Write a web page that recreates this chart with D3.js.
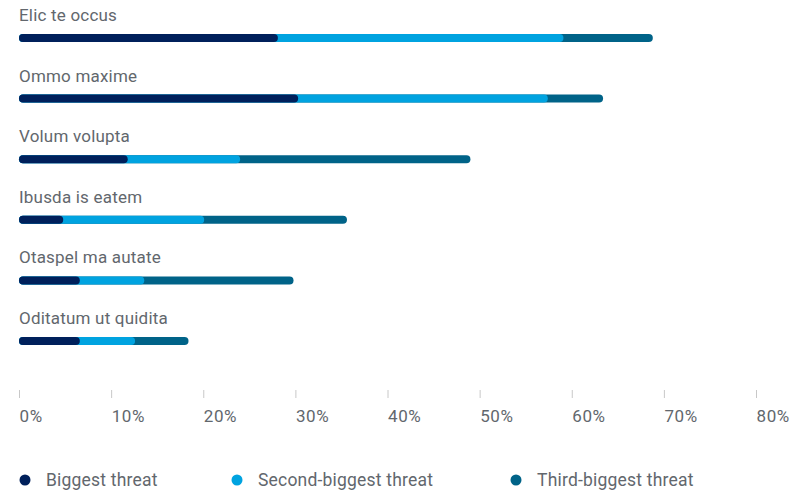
<!DOCTYPE html>
<html>
<head>
<meta charset="utf-8">
<script src="https://cdn.jsdelivr.net/npm/d3@7"></script>
<style>
  body { margin: 0; background: #fff; }
  svg text { font-family: Roboto, "Noto Sans", sans-serif; }
</style>
</head>
<body>
<svg id="chart" width="796" height="491"></svg>
<script>
const categories = ["Elic te occus", "Ommo maxime", "Volum volupta", "Ibusda is eatem", "Otaspel ma autate", "Oditatum ut quidita"];
const biggest = [28.1, 30.3, 11.8, 4.8, 6.6, 6.6];
const second = [31.0, 27.1, 12.2, 15.3, 7.0, 6.0];
const third = [9.7, 6.0, 25.0, 15.5, 16.2, 5.8];
const seriesNames = ["Biggest threat", "Second-biggest threat", "Third-biggest threat"];
const tickValues = [0, 10, 20, 30, 40, 50, 60, 70, 80];

const colors = ["#00205b", "#00a3e0", "#006388"];
const textColor = "#62676d";

const width = 796, height = 491;
const svg = d3.select("#chart");

const x = d3.scaleLinear().domain([0, 80]).range([19, 756]);
const y = d3.scalePoint().domain(categories).range([38, 341]);
const barH = 8;

const rows = categories.map((c, i) => ({
  name: c,
  segs: [biggest[i], biggest[i] + second[i], biggest[i] + second[i] + third[i]]
}));

// category labels
svg.append("g").selectAll("text")
  .data(rows)
  .enter().append("text")
  .attr("x", x(0))
  .attr("y", d => y(d.name) - 17)
  .attr("fill", textColor)
  .attr("font-size", 17)
  .attr("letter-spacing", 0.2)
  .text(d => d.name);

// bars: draw cumulative from back to front so rounded ends overlap
const barG = svg.append("g");
[2, 1, 0].forEach(k => {
  barG.selectAll(".s" + k)
    .data(rows)
    .enter().append("rect")
    .attr("class", "s" + k)
    .attr("x", x(0))
    .attr("y", d => y(d.name) - barH / 2)
    .attr("width", d => x(d.segs[k]) - x(0))
    .attr("height", barH)
    .attr("rx", barH / 2)
    .attr("fill", colors[k]);
});

// x axis
const xAxis = d3.axisBottom(x)
  .tickValues(tickValues)
  .tickFormat(d => d + "%")
  .tickSize(8)
  .tickPadding(12);

const axG = svg.append("g")
  .attr("transform", "translate(0, 390)")
  .call(xAxis);
axG.select(".domain").remove();
axG.selectAll(".tick line").attr("stroke", "#c8c8c8");
axG.selectAll(".tick text")
  .attr("text-anchor", "start")
  .attr("fill", textColor)
  .attr("font-size", 17)
  .attr("letter-spacing", 0.6)
  .attr("font-family", "Roboto, 'Noto Sans', sans-serif");

// legend
const legendX = [25, 237, 516];
const legend = svg.append("g").selectAll("g")
  .data(seriesNames)
  .enter().append("g")
  .attr("transform", (d, i) => `translate(${legendX[i]}, 480)`);
legend.append("circle")
  .attr("r", 5.5)
  .attr("fill", (d, i) => colors[i]);
legend.append("text")
  .attr("x", 21)
  .attr("dy", "0.35em")
  .attr("fill", textColor)
  .attr("font-size", 17.5)
  .attr("letter-spacing", 0.2)
  .text(d => d);
</script>
</body>
</html>
